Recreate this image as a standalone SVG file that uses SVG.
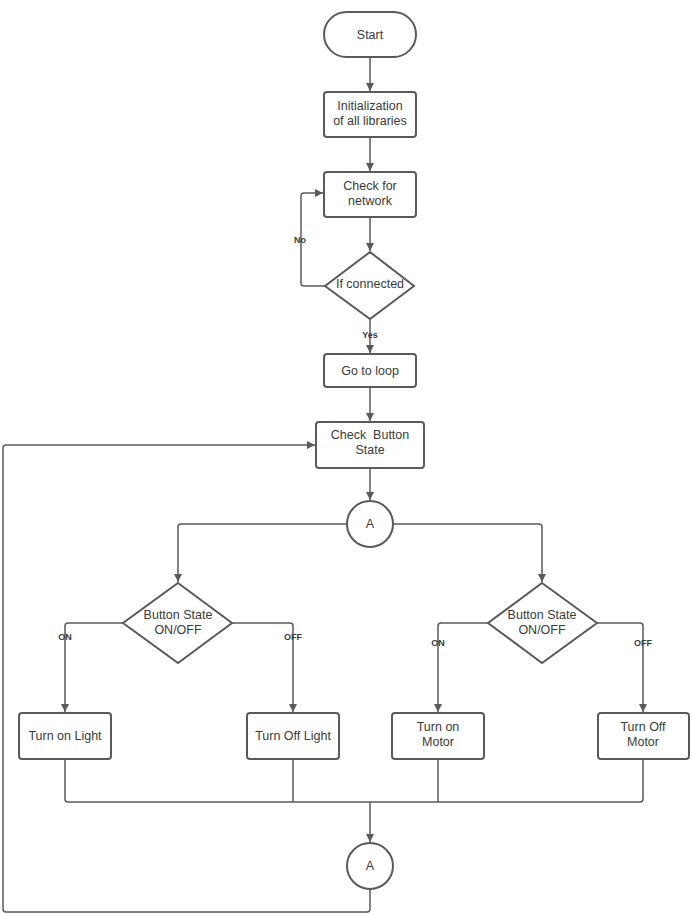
<svg xmlns="http://www.w3.org/2000/svg" width="693" height="914" viewBox="0 0 693 914">
<style>
.n{fill:#fff;stroke:#5a5a5a;stroke-width:2}
.t{font-family:"Liberation Sans",Arial,sans-serif;font-size:12.5px;fill:#3a3a3a;text-anchor:middle}
.l{font-family:"Liberation Sans",Arial,sans-serif;font-size:9px;font-weight:bold;fill:#3a3a3a;text-anchor:middle}
.c{fill:none;stroke:#5a5a5a;stroke-width:1.5;stroke-linejoin:round}
</style>
<defs>
<marker id="ah" viewBox="0 0 10 10" refX="10" refY="5" markerWidth="8" markerHeight="8" markerUnits="userSpaceOnUse" orient="auto"><path d="M0,0 L10,5 L0,10 z" fill="#5a5a5a"/></marker>
</defs>
<rect width="693" height="914" fill="#fff"/>
<g id="connectors">
<path class="c" d="M370,57 V91" marker-end="url(#ah)"/>
<path class="c" d="M370,137 V171" marker-end="url(#ah)"/>
<path class="c" d="M370,217 V251" marker-end="url(#ah)"/>
<path class="c" d="M325,286 H304 Q301,286 301,283 V196 Q301,193 304,193 H323" marker-end="url(#ah)"/>
<path class="c" d="M370,319 V353" marker-end="url(#ah)"/>
<path class="c" d="M370,387 V421" marker-end="url(#ah)"/>
<path class="c" d="M370,468 V500" marker-end="url(#ah)"/>
<path class="c" d="M347,524 H181 Q178,524 178,527 V582" marker-end="url(#ah)"/>
<path class="c" d="M393,524 H539 Q542,524 542,527 V582" marker-end="url(#ah)"/>
<path class="c" d="M123,623 H68 Q65,623 65,626 V712" marker-end="url(#ah)"/>
<path class="c" d="M232,623 H290 Q293,623 293,626 V712" marker-end="url(#ah)"/>
<path class="c" d="M488,623 H441 Q438,623 438,626 V712" marker-end="url(#ah)"/>
<path class="c" d="M597,623 H640 Q643,623 643,626 V712" marker-end="url(#ah)"/>
<path class="c" d="M65,759 V799 Q65,802 68,802 H640 Q643,802 643,799 V759"/>
<path class="c" d="M293,759 V802"/>
<path class="c" d="M438,759 V802"/>
<path class="c" d="M370,802 V842" marker-end="url(#ah)"/>
<path class="c" d="M370,889 V909 Q370,912 367,912 H6 Q3,912 3,909 V448 Q3,445 6,445 H315" marker-end="url(#ah)"/>
<text class="l" x="300" y="243">No</text>
<text class="l" x="370" y="338">Yes</text>
<text class="l" x="65" y="640">ON</text>
<text class="l" x="293" y="640">OFF</text>
<text class="l" x="438" y="646">ON</text>
<text class="l" x="643" y="646">OFF</text>
</g>
<g id="start"><rect class="n" x="324" y="12" width="92" height="45" rx="22.5"/><text class="t" x="370" y="39">Start</text></g>
<g id="init"><rect class="n" x="324" y="92" width="92" height="45" rx="3"/><text class="t" x="370" y="110">Initialization</text><text class="t" x="370" y="125">of all libraries</text></g>
<g id="check-network"><rect class="n" x="324" y="172" width="92" height="45" rx="3"/><text class="t" x="370" y="190">Check for</text><text class="t" x="370" y="205">network</text></g>
<g id="if-connected"><path class="n" d="M370,252 L414,286 L370,319 L325,286 Z"/><text class="t" x="370" y="288">If connected</text></g>
<g id="go-to-loop"><rect class="n" x="324" y="354" width="92" height="33" rx="3"/><text class="t" x="370" y="375">Go to loop</text></g>
<g id="check-button"><rect class="n" x="316" y="422" width="108" height="46" rx="3"/><text class="t" x="370" y="439" xml:space="preserve">Check  Button</text><text class="t" x="370" y="454">State</text></g>
<g id="connector-a-top"><circle class="n" cx="370" cy="524" r="23"/><text class="t" x="370" y="528">A</text></g>
<g id="decision-left"><path class="n" d="M178,583 L232,623 L178,663 L123,623 Z"/><text class="t" x="178" y="619">Button State</text><text class="t" x="178" y="634">ON/OFF</text></g>
<g id="decision-right"><path class="n" d="M542,583 L597,623 L542,663 L488,623 Z"/><text class="t" x="542" y="619">Button State</text><text class="t" x="542" y="634">ON/OFF</text></g>
<g id="turn-on-light"><rect class="n" x="19" y="713" width="92" height="46" rx="3"/><text class="t" x="65" y="740">Turn on Light</text></g>
<g id="turn-off-light"><rect class="n" x="247" y="713" width="92" height="46" rx="3"/><text class="t" x="293" y="740">Turn Off Light</text></g>
<g id="turn-on-motor"><rect class="n" x="392" y="713" width="92" height="46" rx="3"/><text class="t" x="438" y="731">Turn on</text><text class="t" x="438" y="746">Motor</text></g>
<g id="turn-off-motor"><rect class="n" x="598" y="713" width="91" height="46" rx="3"/><text class="t" x="643" y="731">Turn Off</text><text class="t" x="643" y="746">Motor</text></g>
<g id="connector-a-bottom"><circle class="n" cx="370" cy="866" r="23"/><text class="t" x="370" y="870">A</text></g>
</svg>
